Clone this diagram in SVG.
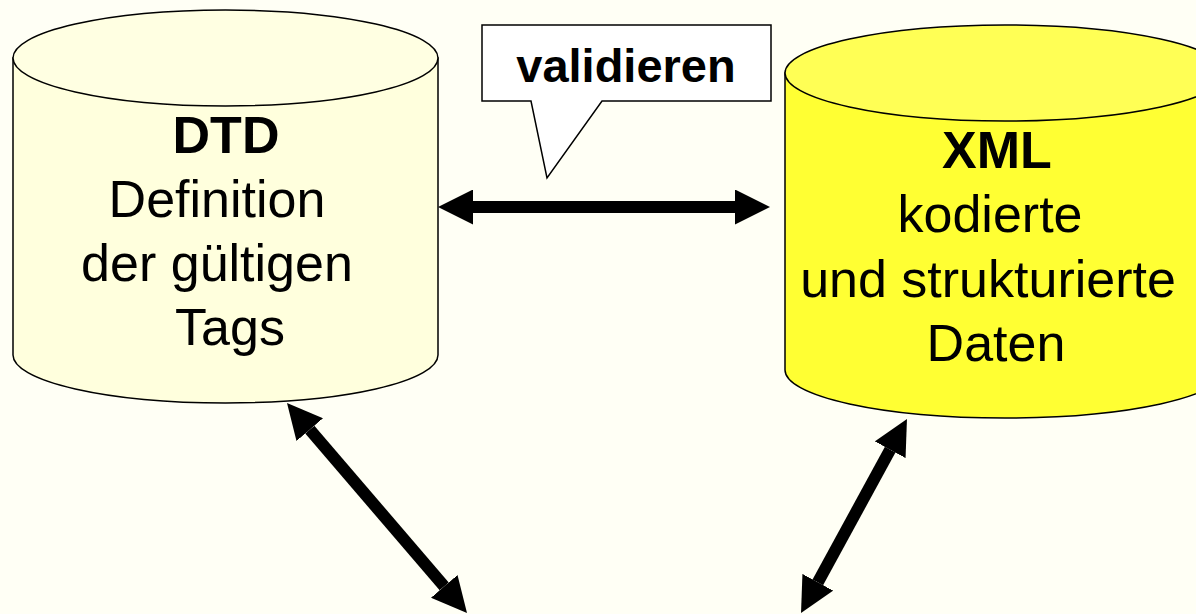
<svg xmlns="http://www.w3.org/2000/svg" width="1196" height="614" viewBox="0 0 1196 614">
<defs>
<style>
.bg{fill:#FFFFF5}
.cyl{stroke:#000;stroke-width:1.5}
.t{font-family:"Liberation Sans",Arial,sans-serif;font-size:52px;fill:#000;text-anchor:middle}
.b{font-weight:bold}
.conn{stroke:#000;stroke-width:12;fill:none}
</style>
<marker id="ah" markerUnits="userSpaceOnUse" markerWidth="35" markerHeight="35" viewBox="0 0 35 35" refX="0" refY="17.5" orient="auto-start-reverse">
<path d="M0,0 L35,17.5 L0,35 Z" fill="#000"/>
</marker>
</defs>
<rect class="bg" x="0" y="0" width="1196" height="614"/>
<g id="dtd">
<path class="cyl" fill="#FFFFDD" d="M13,58 L13,355 A212.5,48 0 0 0 438,355 L438,58 Z"/>
<ellipse class="cyl" fill="#FFFFE2" cx="225.5" cy="58" rx="212.5" ry="48"/>
<text class="t b" x="226" y="153">DTD</text>
<text class="t" x="217" y="217">Definition</text>
<text class="t" x="217" y="281">der gültigen</text>
<text class="t" x="230" y="345">Tags</text>
</g>
<g id="xml">
<path class="cyl" fill="#FFFF33" d="M785,73 L785,370 A220,48 0 0 0 1225,370 L1225,73 Z"/>
<ellipse class="cyl" fill="#FFFF55" cx="1005" cy="73" rx="220" ry="48"/>
<text class="t b" x="997" y="168">XML</text>
<text class="t" x="990" y="232">kodierte</text>
<text class="t" x="988" y="297">und strukturierte</text>
<text class="t" x="996" y="361">Daten</text>
</g>
<g id="callout">
<path d="M482,25 H771 V101 H602 L547,178 L531,101 H482 Z" fill="#FFFFFF" stroke="#000" stroke-width="1.5"/>
<text class="t b" x="626" y="82" style="font-size:47px">validieren</text>
</g>
<g id="connectors">
<line class="conn" x1="473" y1="207" x2="735" y2="207" marker-start="url(#ah)" marker-end="url(#ah)"/>
<line class="conn" x1="309.8" y1="429.6" x2="444.2" y2="586.4" marker-start="url(#ah)" marker-end="url(#ah)"/>
<line class="conn" x1="890.2" y1="449.7" x2="817.8" y2="582.3" marker-start="url(#ah)" marker-end="url(#ah)"/>
</g>
</svg>
